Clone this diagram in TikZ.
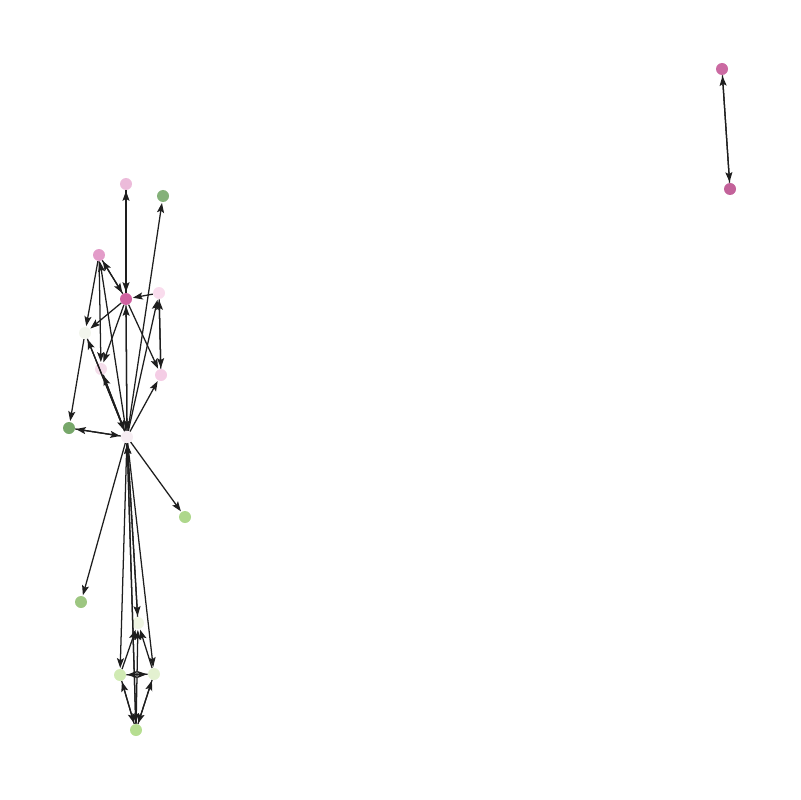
\documentclass[tikz,border=0pt]{standalone}
\usetikzlibrary{arrows.meta}
\definecolor{cA}{RGB}{233,175,212}
\definecolor{cB}{RGB}{111,163,98}
\definecolor{cC}{RGB}{222,139,192}
\definecolor{cD}{RGB}{200,70,145}
\definecolor{cE}{RGB}{248,214,234}
\definecolor{cF}{RGB}{240,243,234}
\definecolor{cG}{RGB}{242,215,230}
\definecolor{cH}{RGB}{242,196,224}
\definecolor{cI}{RGB}{95,152,80}
\definecolor{cJ}{RGB}{244,234,240}
\definecolor{cK}{RGB}{160,208,120}
\definecolor{cL}{RGB}{140,188,107}
\definecolor{cM}{RGB}{236,243,222}
\definecolor{cN}{RGB}{200,230,166}
\definecolor{cO}{RGB}{222,239,200}
\definecolor{cP}{RGB}{169,216,126}
\definecolor{cQ}{RGB}{194,80,146}
\definecolor{cR}{RGB}{184,70,136}
\definecolor{edgec}{RGB}{30,30,30}
\begin{document}
\begin{tikzpicture}[x=0.025cm,y=-0.025cm,
  vtx/.style={circle,inner sep=0pt,minimum size=12*0.025cm,draw=none,fill opacity=0.85},
  edge/.style={draw=edgec,line width=0.9pt,-{Stealth[length=7pt,width=5pt,inset=1.4pt]},shorten >=0.5pt}]
\useasboundingbox (0,0) rectangle (800,800);
\node[vtx,fill=cA] (A) at (126,184) {};
\node[vtx,fill=cB] (B) at (163,196) {};
\node[vtx,fill=cC] (C) at (99,255) {};
\node[vtx,fill=cD] (D) at (126,299) {};
\node[vtx,fill=cE] (E) at (159,293) {};
\node[vtx,fill=cF] (F) at (85,333) {};
\node[vtx,fill=cG] (G) at (101,369) {};
\node[vtx,fill=cH] (H) at (161,375) {};
\node[vtx,fill=cI] (I) at (69,428) {};
\node[vtx,fill=cJ] (J) at (127,437) {};
\node[vtx,fill=cK] (K) at (185,517) {};
\node[vtx,fill=cL] (L) at (81,602) {};
\node[vtx,fill=cM] (M) at (138,623) {};
\node[vtx,fill=cN] (N) at (120,675) {};
\node[vtx,fill=cO] (O) at (154,674) {};
\node[vtx,fill=cP] (P) at (136,730) {};
\node[vtx,fill=cQ] (Q) at (722,69) {};
\node[vtx,fill=cR] (R) at (730,189) {};
\foreach \a/\b in {A/D,D/A,J/B,C/D,D/C,C/F,C/G,J/C,E/D,E/H,H/E,J/E,D/H,J/H,D/F,F/I,J/F,F/J,D/G,J/G,G/J,D/J,J/D,I/J,J/I,J/K,J/L,J/M,M/J,J/N,J/O,J/P,P/J,N/M,O/M,P/M,N/O,O/N,N/P,O/P,P/N,P/O,Q/R,R/Q}
  \draw[edge] (\a) -- (\b);
\end{tikzpicture}
\end{document}
